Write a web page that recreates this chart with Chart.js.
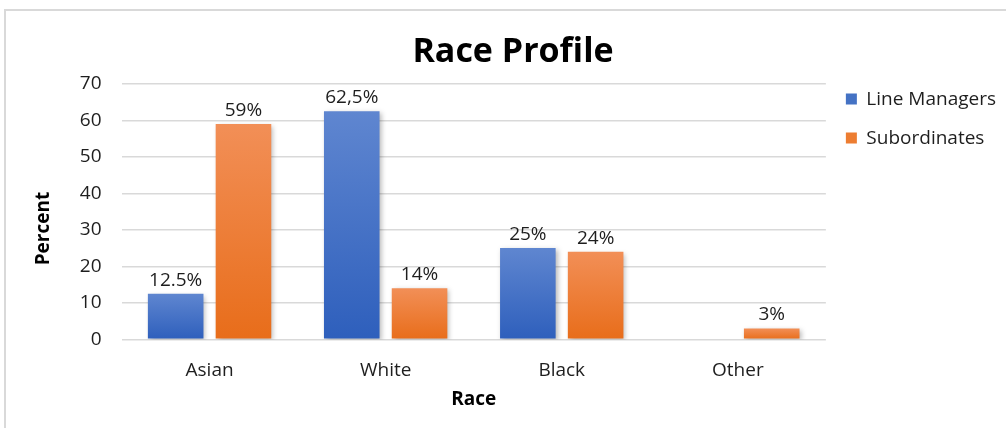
<!DOCTYPE html>
<html>
<head>
<meta charset="utf-8">
<script src="https://cdn.jsdelivr.net/npm/chart.js@4.4.1/dist/chart.umd.min.js"></script>
<style>
  html, body { margin: 0; padding: 0; background: #fff; }
  #wrap { position: relative; width: 1006px; height: 428px; overflow: hidden; }
  /* light frame round the chart, open at the right and bottom edges */
  #frame {
    position: absolute; left: 4px; top: 9px; width: 1100px; height: 600px;
    border-left: 2px solid #d9d9d9; border-top: 2px solid #d9d9d9;
  }
  #raceChart { position: absolute; left: 0; top: 0; }
</style>
</head>
<body>
<div id="wrap">
  <div id="frame"></div>
  <canvas id="raceChart" width="1006" height="428"></canvas>
</div>
<script>
// race breakdown, percent of each group
const categories = ['Asian', 'White', 'Black', 'Other'];
const managers = [12.5, 62.5, 25, null];
const subordinates = [59, 14, 24, 3];
const managerLabels = ['12.5%', '62,5%', '25%', ''];
const subordinateLabels = ['59%', '14%', '24%', '3%'];
const yTicks = [0, 10, 20, 30, 40, 50, 60, 70];

const FONT = '"Open Sans", Lato, sans-serif';
const TEXT = '#1e1e1e';
const SIZE = 19;

const blue = { top: '#5f86d0', bottom: '#2e5fbc', flat: '#4472c4' };
const orange = { top: '#f28f57', bottom: '#e86d1a', flat: '#ed7d31' };

// vertical gradient per bar, light at the top, darker at the base
function barFill(pal) {
  return (ctx) => {
    const chart = ctx.chart;
    if (!chart.chartArea || ctx.type !== 'data' || ctx.raw == null) return pal.flat;
    const y = chart.scales.y;
    const top = y.getPixelForValue(ctx.raw);
    const base = y.getPixelForValue(0);
    if (base - top < 1) return pal.flat;
    const g = chart.ctx.createLinearGradient(0, top, 0, base);
    g.addColorStop(0, pal.top);
    g.addColorStop(1, pal.bottom);
    return g;
  };
}

// soft drop shadow under the bars, value labels on top, y title a bit low
const barExtras = {
  id: 'barExtras',
  beforeDatasetsDraw(chart) {
    const c = chart.ctx;
    c.save();
    c.shadowColor = 'rgba(0,0,0,0.28)';
    c.shadowBlur = 5;
    c.shadowOffsetX = 2;
    c.shadowOffsetY = 2;
  },
  afterDatasetsDraw(chart) {
    const c = chart.ctx;
    c.restore();
    c.save();
    c.font = SIZE + 'px ' + FONT;
    c.fillStyle = TEXT;
    c.textAlign = 'center';
    c.textBaseline = 'bottom';
    chart.data.datasets.forEach((ds, di) => {
      const meta = chart.getDatasetMeta(di);
      meta.data.forEach((bar, i) => {
        const txt = ds.valueLabels[i];
        if (!txt || ds.data[i] == null) return;
        c.fillText(txt, bar.x, bar.y - 4);
      });
    });
    c.restore();
  },
  afterDraw(chart) {
    const c = chart.ctx;
    const y = chart.scales.y;
    const area = chart.chartArea;
    c.save();
    c.font = 'bold ' + SIZE + 'px ' + FONT;
    c.fillStyle = '#000';
    c.textAlign = 'center';
    c.textBaseline = 'middle';
    c.translate(y.left + 12 + SIZE * 0.6, (area.top + area.bottom) / 2 + 17);
    c.rotate(-Math.PI / 2);
    c.fillText('Percent', 0, 0);
    c.restore();
  }
};

new Chart(document.getElementById('raceChart'), {
  type: 'bar',
  data: {
    labels: categories,
    datasets: [
      { label: 'Line Managers', data: managers, valueLabels: managerLabels,
        backgroundColor: barFill(blue), categoryPercentage: 0.77, barPercentage: 0.82 },
      { label: 'Subordinates', data: subordinates, valueLabels: subordinateLabels,
        backgroundColor: barFill(orange), categoryPercentage: 0.77, barPercentage: 0.82 }
    ]
  },
  options: {
    responsive: false,
    animation: false,
    devicePixelRatio: 1,
    layout: { padding: { top: 12, left: 20, right: 0, bottom: 13 } },
    plugins: {
      title: {
        display: true,
        text: 'Race Profile',
        color: '#000',
        font: { family: FONT, size: 34, weight: 'bold' },
        padding: { top: 20, bottom: 11 }
      },
      legend: {
        position: 'right',
        align: 'start',
        title: { display: true, text: ' ', font: { family: FONT, size: 18 }, padding: { top: 0, bottom: 36 } },
        labels: {
          color: TEXT,
          font: { family: FONT, size: SIZE },
          boxWidth: 11,
          boxHeight: 11,
          padding: 20,
          generateLabels: (chart) => chart.data.datasets.map((ds, i) => ({
            text: ds.label,
            fillStyle: [blue.flat, orange.flat][i],
            strokeStyle: [blue.flat, orange.flat][i],
            fontColor: TEXT,
            lineWidth: 0,
            hidden: false,
            datasetIndex: i
          }))
        }
      },
      tooltip: { enabled: false }
    },
    scales: {
      x: {
        grid: { display: false, drawTicks: false },
        border: { display: false },
        ticks: { color: TEXT, font: { family: FONT, size: SIZE }, padding: 20 },
        title: {
          display: true, text: 'Race', color: '#000',
          font: { family: FONT, size: SIZE, weight: 'bold' },
          padding: { top: -14, bottom: 4 }
        }
      },
      y: {
        min: 0,
        max: 70,
        afterBuildTicks: (axis) => { axis.ticks = yTicks.map(v => ({ value: v })); },
        grid: { color: '#d9d9d9', lineWidth: 1.6, drawTicks: false },
        border: { display: false },
        ticks: { color: TEXT, font: { family: FONT, size: SIZE }, padding: 20 },
        // space is kept here, the text itself is drawn by barExtras
        title: {
          display: true, text: 'Percent', color: 'rgba(0,0,0,0)',
          font: { family: FONT, size: SIZE, weight: 'bold' },
          padding: { top: 10, bottom: 7 }
        }
      }
    }
  },
  plugins: [barExtras]
});
</script>
</body>
</html>
